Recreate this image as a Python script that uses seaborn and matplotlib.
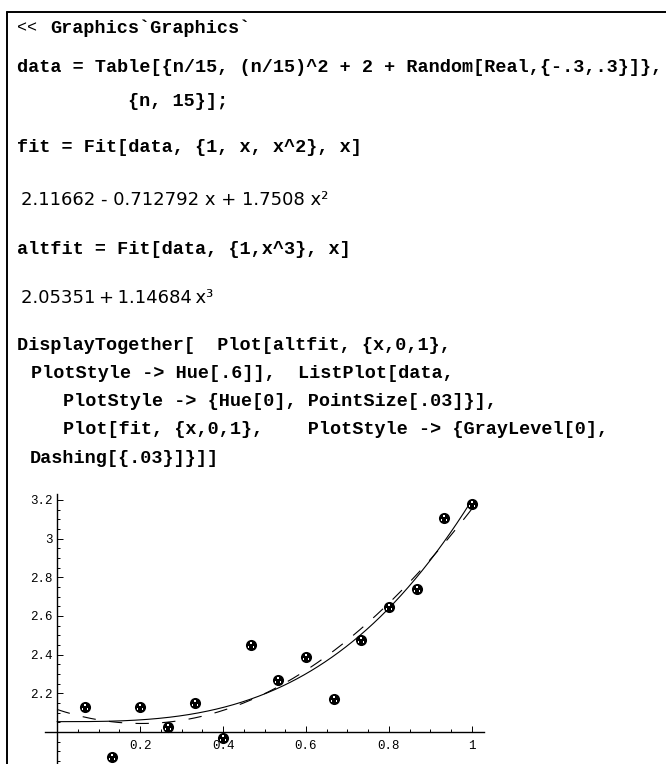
import numpy as np
import matplotlib
matplotlib.use("Agg")
import matplotlib.pyplot as plt
import seaborn as sns
from matplotlib.lines import Line2D
from matplotlib.ticker import MultipleLocator, FixedLocator

sns.set_theme(style="white")
plt.rcParams['font.family'] = ['Liberation Mono', 'DejaVu Sans']

# ListPlot data
x_pts = [0.067, 0.133, 0.2, 0.267, 0.333, 0.4, 0.467, 0.533, 0.6, 0.667, 0.733, 0.8, 0.867, 0.933, 1.0]
y_pts = [2.131, 1.869, 2.131, 2.024, 2.148, 1.967, 2.450, 2.269, 2.386, 2.169, 2.476, 2.645, 2.740, 3.107, 3.180]

# fitted models as printed in the notebook
fit_coef = [2.11662, -0.712792, 1.7508]   # 1, x, x^2
altfit_coef = [2.05351, 1.14684]           # 1, x^3

x_ticks = [0.2, 0.4, 0.6, 0.8, 1.0]
x_labels = ["0.2", "0.4", "0.6", "0.8", "1"]
y_ticks = [2.2, 2.4, 2.6, 2.8, 3.0, 3.2]
y_labels = ["2.2", "2.4", "2.6", "2.8", "3", "3.2"]

W, H = 666, 764
fig = plt.figure(figsize=(W / 100, H / 100), dpi=100)

# notebook frame
fig.add_artist(Line2D([7 / W, 7 / W], [0, 1 - 12 / H], color="black", lw=1.4, transform=fig.transFigure))
fig.add_artist(Line2D([7 / W, 1], [1 - 12 / H, 1 - 12 / H], color="black", lw=1.4, transform=fig.transFigure))

# --- notebook text ---
code = dict(fontsize=13.3, fontweight="bold", family="Liberation Mono", va="center", ha="left", color="black")
out = dict(fontsize=13, family="DejaVu Sans", va="center", ha="left", color="black")

def put(x, y, s, style):
    fig.text(x / W, 1 - y / H, s, **style)

put(17, 28, "<<", dict(code, fontweight="normal", fontsize=12))
put(50, 28, "Graphics`Graphics`", code)
put(17, 68, "data = Table[{n/15, (n/15)^2 + 2 + Random[Real,{-.3,.3}]},", code)
put(128, 101, "{n, 15}];", code)
put(17, 148, "fit = Fit[data, {1, x, x^2}, x]", code)
put(21, 200, "2.11662 - 0.712792 x + 1.7508 x\u00b2", out)
put(17, 250, "altfit = Fit[data, {1,x^3}, x]", code)
put(21, 298, "2.05351\u2009+\u20091.14684\u2009x\u00b3", out)
put(17, 346, "DisplayTogether[  Plot[altfit, {x,0,1},", code)
put(31, 374, "PlotStyle -> Hue[.6]],  ListPlot[data,", code)
put(63, 402, "PlotStyle -> {Hue[0], PointSize[.03]}],", code)
put(63, 430, "Plot[fit, {x,0,1},    PlotStyle -> {GrayLevel[0],", code)
put(30, 458, "Dashing[{.03}]}]]", code)

# --- plot ---
ax = fig.add_axes([45 / W, 0, (484 - 45) / W, (764 - 494) / H])
ax.set_facecolor("none")

xg = np.linspace(0, 1, 300)
y_alt = altfit_coef[0] + altfit_coef[1] * xg ** 3
y_fit = fit_coef[0] + fit_coef[1] * xg + fit_coef[2] * xg ** 2

sns.lineplot(x=xg, y=y_alt, ax=ax, color="black", linewidth=0.8, sort=False, estimator=None)
sns.lineplot(x=xg, y=y_fit, ax=ax, color="black", linewidth=0.8, sort=False, estimator=None,
             linestyle=(0, (12, 12)))
sns.scatterplot(x=x_pts, y=y_pts, ax=ax, color="black", s=64, marker="o", linewidth=0, zorder=5)
sns.scatterplot(x=x_pts, y=y_pts, ax=ax, color="white", s=18, marker=r"$\therefore$", linewidth=0, zorder=6)

ax.set_xlim(-0.029, 1.029)
ax.set_ylim(1.8345, 3.231)

for side in ["top", "right"]:
    ax.spines[side].set_visible(False)
ax.spines["left"].set_position(("data", 0))
ax.spines["bottom"].set_position(("data", 2.0))
for side in ["left", "bottom"]:
    ax.spines[side].set_color("black")
    ax.spines[side].set_linewidth(1.0)

ax.xaxis.set_major_locator(FixedLocator(x_ticks))
ax.set_xticklabels(x_labels)
ax.xaxis.set_minor_locator(MultipleLocator(0.05))
ax.yaxis.set_major_locator(FixedLocator(y_ticks))
ax.set_yticklabels(y_labels)
ax.yaxis.set_minor_locator(MultipleLocator(0.05))

ax.tick_params(which="both", direction="in", color="black", width=0.7,
               bottom=True, left=True, labelsize=9, labelcolor="black")
ax.tick_params(which="major", length=4.5)
ax.tick_params(which="minor", length=2.2)
ax.tick_params(axis="x", which="major", pad=6)
ax.tick_params(axis="y", which="major", pad=3)
ax.grid(False)
ax.set_xlabel("")
ax.set_ylabel("")

fig.savefig("out.png", dpi=100)
